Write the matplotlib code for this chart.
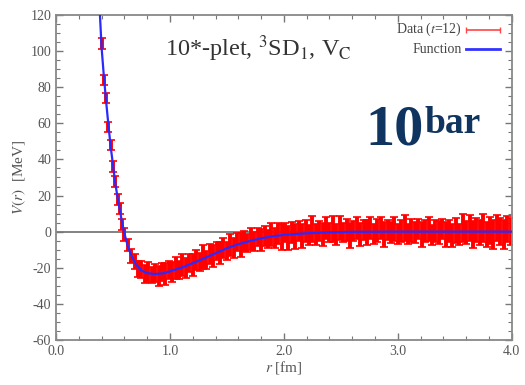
import matplotlib
matplotlib.use("Agg")
import matplotlib.pyplot as plt
from matplotlib.ticker import MultipleLocator, FixedLocator

plt.rcParams['font.family'] = ['Liberation Serif', 'DejaVu Serif']
plt.rcParams['mathtext.fontset'] = 'stix'
plt.rcParams['axes.unicode_minus'] = False

# ---- data ----
r_data = [0.40, 0.42, 0.44, 0.46, 0.48, 0.50, 0.52, 0.54, 0.56, 0.58, 0.60,
          0.63, 0.66, 0.69, 0.72, 0.75, 0.78, 0.81, 0.84, 0.87, 0.90, 0.93, 0.96, 0.99,
          1.02, 1.05, 1.08, 1.11, 1.14, 1.17, 1.20, 1.23, 1.26, 1.29, 1.32, 1.35, 1.38,
          1.41, 1.44, 1.47, 1.50, 1.53, 1.56, 1.59, 1.62, 1.65, 1.68, 1.71, 1.74, 1.77,
          1.80, 1.83, 1.86, 1.89, 1.92, 1.95, 1.98, 2.01, 2.04, 2.07, 2.10, 2.13, 2.16,
          2.19, 2.22, 2.25, 2.28, 2.31, 2.34, 2.37, 2.40, 2.43, 2.46, 2.49, 2.52, 2.55,
          2.58, 2.61, 2.64, 2.67, 2.70, 2.73, 2.76, 2.79, 2.82, 2.85, 2.88, 2.91, 2.94,
          2.97, 3.00, 3.03, 3.06, 3.09, 3.12, 3.15, 3.18, 3.21, 3.24, 3.27, 3.30, 3.33,
          3.36, 3.39, 3.42, 3.45, 3.48, 3.51, 3.54, 3.57, 3.60, 3.63, 3.66, 3.69, 3.72,
          3.75, 3.78, 3.81, 3.84, 3.87, 3.90, 3.93, 3.96, 3.99]
v_data = [104, 84, 74, 58, 48, 36, 28, 18, 13, 4, -1.5,
          -7.5, -13.5, -16.5, -20.5, -21, -23.5, -22.5, -24, -23, -24.5, -22.5, -23.5, -21.5,
          -22.5, -20, -21.5, -18.5, -20, -17.5, -18.5, -15.5, -17, -14, -15.5, -12.5, -13.5,
          -10.5, -12, -9, -10.5, -7.5, -9, -6, -7.5, -5, -6.5, -4, -5.5, -3,
          -4.5, -2.5, -4, -1.5, -3.5, -1, -3, -0.5, -3.5, -0.5, -2.5, 0.5, -2.5,
          0.5, -2, 1.5, -1.5, 0.5, -1.5, 2, -0.5, 1.5, -1.5, 2, -0.5, 1,
          -2, 0.5, 2, -1.5, 1, -0.5, 2, -1.5, 0.5, 2, -1.5, 1, -0.5,
          1.5, -1.5, 0.5, 2, -1.5, 0.5, -0.5, 1.5, -1.5, 0.5, 1.5, -2, 0.5,
          -0.5, 1.5, -1.5, 0.5, -2, 0.5, -1.5, 2, -0.5, 2, -1.5, 1, -0.5,
          2, -1.5, 0.5, -1.5, 2, 0, -1.5, 1.5, 0]
err_data = [3, 3, 3, 3, 3, 3, 3, 3, 3, 3, 3.5,
            3.5, 4, 4, 4.5, 4.5, 5, 5.5, 4.5, 5, 5.5, 5, 6, 5,
            5.5, 6, 5, 6, 5.5, 5, 6, 5.5, 5, 6.5, 5, 5.5, 6,
            5, 6, 5.5, 5, 6, 5.5, 5, 6.5, 5.5, 5, 6, 5.5, 5,
            6, 5.5, 5, 6.5, 5.5, 6, 7, 5.5, 6.5, 6, 7, 5.5, 6.5,
            6, 5.5, 7, 6, 5.5, 6.5, 6, 5.5, 7, 6, 6.5, 5.5, 6,
            7, 5.5, 6, 6.5, 5.5, 7, 6, 5.5, 6.5, 6, 7, 5.5, 6,
            6.5, 5.5, 6, 7, 5.5, 6.5, 6, 5.5, 7, 6, 6.5, 5.5, 6,
            6.5, 5.5, 7, 6, 6.5, 7, 6, 7.5, 6.5, 7, 7.5, 6.5, 7,
            8, 7, 7.5, 8, 7, 7.5, 8, 7, 7.5]

r_fit = [0.38, 0.40, 0.42, 0.44, 0.46, 0.48, 0.50, 0.52, 0.54, 0.56, 0.58, 0.60,
         0.63, 0.66, 0.70, 0.75, 0.80, 0.87, 0.95, 1.0, 1.1, 1.2, 1.3, 1.4, 1.5,
         1.6, 1.7, 1.8, 1.9, 2.0, 2.2, 2.4, 2.6, 3.0, 3.5, 4.0]
v_fit = [127, 102, 86, 72, 59, 47, 37, 27, 19, 12, 5, -1,
         -8, -13, -18, -21.5, -23, -23.5, -23, -22, -20, -17.5, -14.8, -12, -9.2,
         -7, -5.2, -3.7, -2.6, -1.8, -0.9, -0.4, -0.1, 0, 0, 0]

x_ticks = [0.0, 1.0, 2.0, 3.0, 4.0]
x_ticklabels = ["0.0", "1.0", "2.0", "3.0", "4.0"]
y_ticks = [-60, -40, -20, 0, 20, 40, 60, 80, 100, 120]

fig = plt.figure(figsize=(5.25, 3.85), dpi=100)
ax = fig.add_axes([0.1067, 0.117, 0.868, 0.844])

gray = '#555555'
ax.axhline(0, color='#777777', lw=1.3, zorder=1)

ax.errorbar(r_data, v_data, yerr=err_data, fmt='none', ecolor='#ff0000',
            elinewidth=2.8, capsize=3, capthick=1.2, zorder=2)
ax.plot(r_fit, v_fit, color='#2a2aff', lw=1.6, zorder=3)

ax.set_xlim(0, 4.0)
ax.set_ylim(-60, 120)
ax.xaxis.set_major_locator(FixedLocator(x_ticks))
ax.set_xticklabels(x_ticklabels)
ax.xaxis.set_minor_locator(MultipleLocator(0.2))
ax.yaxis.set_major_locator(FixedLocator(y_ticks))
ax.yaxis.set_minor_locator(MultipleLocator(5))
ax.tick_params(which='both', direction='in', top=True, right=True, colors='#777777',
               labelcolor=gray, labelsize=10)
ax.tick_params(which='major', length=5, width=1)
ax.tick_params(which='minor', length=3, width=0.8)
for s in ax.spines.values():
    s.set_color('#888888')
    s.set_linewidth(1.3)

ax.set_xlabel(r"$\it{r}$ [fm]", color=gray, fontsize=11, labelpad=1)
ax.set_ylabel(r"$\it{V}(\it{r})$  [MeV]", color=gray, fontsize=11, labelpad=2)

ax.text(0.24, 0.895, r"10*-plet, $^{3}$SD$_{1}$, V$_{\rm C}$", transform=ax.transAxes,
        fontsize=17.5, color='#333333', va='center', ha='left')

ax.text(0.89, 0.955, r"Data ($\it{t}$=12)", transform=ax.transAxes, fontsize=10,
        color='#444444', ha='right', va='center')
ax.text(0.89, 0.895, "Function", transform=ax.transAxes, fontsize=10,
        color='#444444', ha='right', va='center')
ax.errorbar([0.937], [0.955], xerr=[0.037], transform=ax.transAxes, fmt='none',
            ecolor='#ff4444', elinewidth=1.2, capsize=2, capthick=1)
ax.plot([0.90, 0.974], [0.895, 0.895], transform=ax.transAxes, color='#3333ff', lw=2)

fig.text(0.695, 0.6234, "10", fontsize=42, fontweight='bold', color='#0f3460',
         ha='left', va='baseline')
fig.text(0.8095, 0.6545, "bar", fontsize=27, fontweight='bold', color='#0f3460',
         ha='left', va='baseline')

fig.savefig("out.png", dpi=100)
